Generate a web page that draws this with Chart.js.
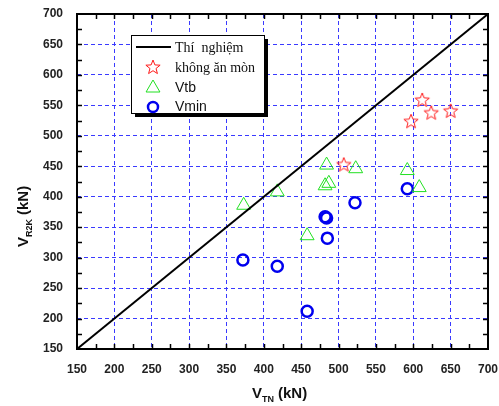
<!DOCTYPE html>
<html>
<head>
<meta charset="utf-8">
<script src="https://cdn.jsdelivr.net/npm/chart.js@4/dist/chart.umd.min.js"></script>
<style>
  body { margin: 0; background: #fff; }
  canvas { display: block; }
</style>
</head>
<body>
<canvas id="chart" width="499" height="406"></canvas>
<script>
// Data (kN)
const axisTicks = [150, 200, 250, 300, 350, 400, 450, 500, 550, 600, 650, 700];
const lineX = [150, 700];
const lineY = [150, 700];
const starX = [507, 597, 612, 624, 650];
const starY = [453, 524, 559, 538, 541];
const triX = [373, 418, 458, 482, 487, 484, 523, 592, 608];
const triY = [386, 408, 336, 418, 422, 452, 446, 443, 415];
const cirX = [372, 418, 458, 485, 482, 484, 522, 592];
const cirY = [296, 286, 212, 332, 367, 365, 390, 413];

const legendLabels = ['Thí  nghiệm', 'không ăn mòn', 'Vtb', 'Vmin'];

function toPoints(xs, ys) {
    return xs.map((x, i) => ({ x: x, y: ys[i] }));
}

// Five-point outlined star used as point style
function makeStar() {
    const c = document.createElement('canvas');
    c.width = 18; c.height = 18;
    const g = c.getContext('2d');
    g.strokeStyle = '#ff1a1a';
    g.lineWidth = 1;
    g.beginPath();
    for (let i = 0; i < 10; i++) {
        const r = i % 2 === 0 ? 7.5 : 3.2;
        const a = -Math.PI / 2 + i * Math.PI / 5;
        const px = 9 + r * Math.cos(a), py = 9.5 + r * Math.sin(a);
        if (i === 0) g.moveTo(px, py); else g.lineTo(px, py);
    }
    g.closePath();
    g.stroke();
    return c;
}
const starImg = makeStar();

// fixed axis sizes, no label overflow padding
function fixBox(size, isX) {
    return s => {
        if (isX) s.height = size; else s.width = size;
        s.paddingLeft = 0; s.paddingRight = 0;
        s.paddingTop = 0; s.paddingBottom = 0;
    };
}

/**
 * Frame, inside ticks, axis titles and boxed legend
 */
const decorPlugin = {
    id: 'decor',
    afterDraw(chart) {
        const ctx = chart.ctx;
        const a = chart.chartArea;
        const xs = chart.scales.x, ys = chart.scales.y;

        ctx.save();
        // frame
        ctx.strokeStyle = '#000';
        ctx.lineWidth = 2;
        ctx.strokeRect(a.left, a.top, a.right - a.left, a.bottom - a.top);

        // inside ticks every 25
        ctx.lineWidth = 1.5;
        ctx.beginPath();
        for (let v = 175; v < 700; v += 25) {
            const px = Math.round(xs.getPixelForValue(v)) + 0.5;
            const py = Math.round(ys.getPixelForValue(v)) + 0.5;
            ctx.moveTo(px, a.bottom); ctx.lineTo(px, a.bottom - 5);
            ctx.moveTo(px, a.top); ctx.lineTo(px, a.top + 5);
            ctx.moveTo(a.left, py); ctx.lineTo(a.left + 5, py);
            ctx.moveTo(a.right, py); ctx.lineTo(a.right - 5, py);
        }
        ctx.stroke();

        // axis titles with subscripts
        ctx.fillStyle = '#111';
        ctx.textBaseline = 'alphabetic';
        ctx.textAlign = 'left';
        const big = 'bold 15px Arial, "Liberation Sans", sans-serif';
        const small = 'bold 9px Arial, "Liberation Sans", sans-serif';

        function titled(x, y, main, sub, rest) {
            ctx.font = big;
            ctx.fillText(main, x, y);
            let cx = x + ctx.measureText(main).width;
            ctx.font = small;
            ctx.fillText(sub, cx, y + 4);
            cx += ctx.measureText(sub).width + 4;
            ctx.font = big;
            ctx.fillText(rest, cx, y);
        }
        titled(252, 398, 'V', 'TN', '(kN)');
        ctx.save();
        ctx.translate(28, 247);
        ctx.rotate(-Math.PI / 2);
        titled(0, 0, 'V', 'R2K', '(kN)');
        ctx.restore();

        // legend box with shadow
        const L = 131, T = 35, W = 133, H = 78;
        ctx.fillStyle = '#000';
        ctx.fillRect(L + 4, T + 4, W, H);
        ctx.fillStyle = '#fff';
        ctx.fillRect(L, T, W, H);
        ctx.strokeStyle = '#000';
        ctx.lineWidth = 1;
        ctx.strokeRect(L + 0.5, T + 0.5, W, H);

        // line sample
        ctx.lineWidth = 2;
        ctx.beginPath();
        ctx.moveTo(136, 47); ctx.lineTo(171, 47);
        ctx.stroke();
        // star sample
        ctx.drawImage(starImg, 153 - 9, 67 - 9);
        // triangle sample
        ctx.fillStyle = 'rgba(0,0,0,0)';
        ctx.strokeStyle = '#22e022';
        ctx.lineWidth = 1;
        Chart.helpers.drawPoint(ctx, { pointStyle: 'triangle', radius: 8, borderWidth: 1 }, 153, 88);
        // circle sample
        ctx.strokeStyle = '#0000ee';
        ctx.lineWidth = 2.5;
        ctx.beginPath();
        ctx.arc(153, 107, 5, 0, Math.PI * 2);
        ctx.stroke();

        ctx.fillStyle = '#111';
        ctx.textBaseline = 'middle';
        ctx.font = '14px "Liberation Serif", "Times New Roman", serif';
        ctx.fillText(legendLabels[0], 175, 48);
        ctx.fillText(legendLabels[1], 175, 68);
        ctx.font = '14px Arial, "Liberation Sans", sans-serif';
        ctx.fillText(legendLabels[2], 175, 88);
        ctx.fillText(legendLabels[3], 175, 107);
        ctx.restore();
    }
};

const tickFont = { family: 'Arial, "Liberation Sans", sans-serif', size: 12, weight: 'bold' };
const gridBlue = '#3a3aff';

new Chart(document.getElementById('chart'), {
    type: 'scatter',
    data: {
        datasets: [
            {
                type: 'line',
                label: legendLabels[0],
                data: toPoints(lineX, lineY),
                borderColor: '#000',
                borderWidth: 2,
                pointRadius: 0,
                fill: false
            },
            {
                label: legendLabels[1],
                data: toPoints(starX, starY),
                pointStyle: starImg,
                pointRadius: 8
            },
            {
                label: legendLabels[2],
                data: toPoints(triX, triY),
                pointStyle: 'triangle',
                pointRadius: 8,
                borderColor: '#22e022',
                backgroundColor: 'rgba(0,0,0,0)',
                borderWidth: 1
            },
            {
                label: legendLabels[3],
                data: toPoints(cirX, cirY),
                pointStyle: 'circle',
                pointRadius: 5.5,
                borderColor: '#0000ee',
                backgroundColor: 'rgba(0,0,0,0)',
                borderWidth: 2.5
            }
        ]
    },
    options: {
        responsive: false,
        animation: false,
        layout: { padding: { top: 14, right: 11, left: 0, bottom: 0 } },
        plugins: {
            legend: { display: false },
            tooltip: { enabled: false }
        },
        scales: {
            x: {
                type: 'linear',
                min: 150,
                max: 700,
                afterBuildTicks: s => { s.ticks = axisTicks.map(v => ({ value: v })); },
                afterFit: fixBox(57, true),
                ticks: { font: tickFont, color: '#222', padding: 13, maxRotation: 0 },
                grid: { color: gridBlue, lineWidth: 1, drawTicks: false },
                border: { display: false, dash: [4, 3] }
            },
            y: {
                type: 'linear',
                min: 150,
                max: 700,
                afterBuildTicks: s => { s.ticks = axisTicks.map(v => ({ value: v })); },
                afterFit: fixBox(77, false),
                ticks: { font: tickFont, color: '#222', padding: 14 },
                grid: { color: gridBlue, lineWidth: 1, drawTicks: false },
                border: { display: false, dash: [4, 3] }
            }
        }
    },
    plugins: [decorPlugin]
});
</script>
</body>
</html>
